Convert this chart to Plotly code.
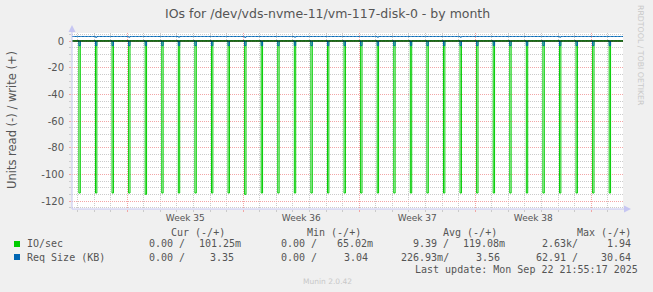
import pandas as pd
import plotly.graph_objects as go

# ---------------- data ----------------
range_start = "2025-08-20 16:00"
range_end = "2025-09-22 22:00"
first_day = "2025-08-21"
spike_hour = 2

# daily read burst (IO/sec, magnitude) - one 2h sample per day
read_io_spike = [114, 114, 114, 114, 115, 114, 114, 114, 114, 114, 115,
                 114, 114, 114, 114, 114, 114, 114, 114, 114, 114, 114,
                 114, 114, 114, 114, 114, 114, 114, 114, 114, 114, 114]
# read request size (KB, magnitude) during the burst
read_req_spike = [3.5, 3.5, 3.5, 3.5, 3.5, 3.5, 3.5, 3.5, 3.5, 3.5, 3.5,
                  3.5, 3.5, 3.5, 3.5, 3.5, 3.5, 3.5, 3.5, 3.5, 3.5, 3.5,
                  3.5, 3.5, 3.5, 3.5, 3.5, 3.5, 3.5, 3.5, 3.5, 3.5, 3.5]
# write request size (KB) per day
write_req_day = [3.4, 3.4, 3.4, 3.4, 3.4, 3.4, 3.4, 3.4, 3.4, 3.4, 3.4,
                 3.4, 3.4, 3.4, 3.4, 3.4, 3.4, 3.4, 3.4, 3.4, 3.4, 3.4,
                 3.4, 3.4, 3.4, 3.4, 3.4, 3.4, 3.4, 3.4, 3.4, 3.4, 3.4]
# write request size (KB) during the burst slot
write_req_spike = [3.4, 2.8, 3.4, 2.9, 3.4, 3.4, 2.9, 3.4, 3.4, 3.4, 2.8,
                   3.4, 3.4, 2.9, 3.4, 3.4, 3.4, 3.4, 2.9, 3.4, 3.4, 3.4,
                   3.4, 2.9, 3.4, 3.4, 3.4, 3.4, 3.4, 2.9, 3.4, 3.4, 3.4]
# write IO/sec per day
write_io_day = [0.12, 0.12, 0.12, 0.12, 0.12, 0.12, 0.12, 0.12, 0.12, 0.12, 0.12,
                0.12, 0.12, 0.12, 0.12, 0.12, 0.12, 0.12, 0.12, 0.12, 0.12, 0.12,
                0.12, 0.12, 0.12, 0.12, 0.12, 0.12, 0.12, 0.12, 0.12, 0.12, 0.12]

# week boundaries (Sundays) and the label shown for each week
week_starts = ["2025-08-17", "2025-08-24", "2025-08-31", "2025-09-07", "2025-09-14", "2025-09-21"]
week_labels = ["", "Week 35", "Week 36", "Week 37", "Week 38", ""]
y_tick_labels = ["0", "-20", "-40", "-60", "-80", "-100", "-120"]

title_text = "IOs for /dev/vds-nvme-11/vm-117-disk-0 - by month"
y_title = "Units read (-) / write (+)"
series_names = ["IO/sec", "Req Size (KB)"]
series_colors = ["#00CC00", "#0066B3"]
col_headers = ["Cur (-/+)", "Min (-/+)", "Avg (-/+)", "Max (-/+)"]
io_stats_read = ["0.00 /", "0.00 /", "9.39 /", "2.63k/"]
io_stats_write = ["101.25m", "65.02m", "119.08m", "1.94"]
req_stats_read = ["0.00 /", "0.00 /", "226.93m/", "62.91 /"]
req_stats_write = ["3.35", "3.04", "3.56", "30.64"]
last_update = "Last update: Mon Sep 22 21:55:17 2025"

# ---------------- build 2h series ----------------
days = pd.date_range(first_day, periods=len(read_io_spike), freq="D")
slots = pd.date_range(range_start, range_end, freq="2h")
day_index = {d: i for i, d in enumerate(days)}

rio, wio, rreq, wreq = [], [], [], []
for t in slots:
    d = t.normalize()
    i = day_index.get(d, 0)
    known = d in day_index
    spike = known and t.hour == spike_hour
    rio.append(-read_io_spike[i] if spike else 0)
    wio.append(write_io_day[i])
    wreq.append(write_req_spike[i] if spike else write_req_day[i])
    if spike:
        rreq.append(-read_req_spike[i])
    elif known and t.hour in (spike_hour - 2, spike_hour + 2):
        rreq.append(0)
    else:
        rreq.append(None)

# ---------------- figure ----------------
W, H = 653, 292
L, R, T, B = 72, 623, 33, 209
def px(x):
    return (x - L) / (R - L)
def py(y):
    return (B - y) / (B - T)

GREEN, BLUE = series_colors
TXT = "#555555"
AXISC = "#c6c6f2"
MINOR = "#cbcbcb"
MAJOR = "#f2a6a6"

fig = go.Figure()
line_kw = dict(mode="lines", line_shape="hv", hoverinfo="skip", showlegend=False)
fig.add_trace(go.Scatter(x=slots, y=rio, line=dict(color=GREEN, width=1), **line_kw))
fig.add_trace(go.Scatter(x=slots, y=wio, line=dict(color=GREEN, width=1), **line_kw))
fig.add_trace(go.Scatter(x=slots, y=rreq, line=dict(color=BLUE, width=1), connectgaps=False, **line_kw))
fig.add_trace(go.Scatter(x=slots, y=wreq, line=dict(color=BLUE, width=1), **line_kw))

# week tick labels: ISO week key of each Sunday boundary -> label of the week it starts
alias_x = {pd.Timestamp(s).strftime("%V"): lab for s, lab in zip(week_starts, week_labels)}
alias_y = {("\u2212" + lab[1:] if lab.startswith("-") else lab): lab for lab in y_tick_labels}

fig.update_layout(
    width=W, height=H,
    margin=dict(l=L, r=W - R, t=T, b=H - B, pad=0),
    paper_bgcolor="#F0F0F0", plot_bgcolor="#FFFFFF",
    font=dict(family="DejaVu Sans", size=9, color=TXT),
    xaxis=dict(
        type="date", range=[range_start, range_end],
        tickmode="linear", tick0=week_starts[1], dtick=7 * 86400000,
        tickformat="%V", ticklabelmode="period", labelalias=alias_x,
        showgrid=True, gridcolor=MAJOR, griddash="1px,1px", gridwidth=1,
        ticks="outside", ticklen=2, tickcolor=MAJOR,
        minor=dict(tick0=week_starts[1], dtick=86400000, showgrid=True,
                   gridcolor=MINOR, griddash="1px,1px", ticks="outside",
                   ticklen=2, tickcolor=MINOR),
        showline=False, zeroline=False,
        tickfont=dict(family="DejaVu Sans", size=9, color=TXT),
        ticklabelstandoff=-2,
        fixedrange=True,
    ),
    yaxis=dict(
        range=[-126, 6], tickmode="linear", tick0=0, dtick=20,
        labelalias=alias_y,
        showgrid=True, gridcolor=MAJOR, griddash="1px,1px", gridwidth=1,
        ticks="outside", ticklen=2, tickcolor=MAJOR,
        minor=dict(dtick=5, showgrid=True, gridcolor=MINOR, griddash="1px,1px",
                   ticks="outside", ticklen=2, tickcolor=MINOR),
        showline=False, zeroline=False,
        tickfont=dict(family="DejaVu Sans", size=10, color=TXT),
        ticklabelstandoff=3,
        fixedrange=True,
    ),
)

shapes = []
# zero rule
shapes.append(dict(type="line", xref="paper", yref="y", x0=0, x1=1, y0=0, y1=0,
                   line=dict(color="#000000", width=1), layer="above"))
# axes + arrows
shapes.append(dict(type="line", xref="paper", yref="paper", x0=0, x1=0, y0=0, y1=py(28),
                   line=dict(color=AXISC, width=1), layer="above"))
shapes.append(dict(type="line", xref="paper", yref="paper", x0=0, x1=px(628), y0=0, y1=0,
                   line=dict(color=AXISC, width=1), layer="above"))
shapes.append(dict(type="path", xref="paper", yref="paper",
                   path=f"M {px(68.5)} {py(32)} L {px(75.5)} {py(32)} L {px(72)} {py(25)} Z",
                   fillcolor=AXISC, line=dict(color=AXISC, width=0), layer="above"))
shapes.append(dict(type="path", xref="paper", yref="paper",
                   path=f"M {px(624)} {py(205.5)} L {px(624)} {py(212.5)} L {px(631)} {py(209)} Z",
                   fillcolor=AXISC, line=dict(color=AXISC, width=0), layer="above"))
# legend squares
for c, yc in zip(series_colors, [244, 257]):
    shapes.append(dict(type="rect", xref="paper", yref="paper",
                       x0=px(14), x1=px(20), y0=py(yc + 3), y1=py(yc - 3),
                       fillcolor=c, line=dict(width=0)))
fig.update_layout(shapes=shapes)

ann = []
def text(x, y, s, size=10, anchor="left", family="DejaVu Sans Mono", color=TXT, angle=0):
    ann.append(dict(xref="paper", yref="paper", x=px(x), y=py(y), text=s.replace(" ", "\u00a0"),
                    showarrow=False, xanchor=anchor, yanchor="middle", borderpad=0,
                    textangle=angle, font=dict(family=family, size=size, color=color)))

text(327, 13, title_text, size=12.5, anchor="center", family="DejaVu Sans")
text(12, 120, y_title, size=11.5, anchor="center", family="DejaVu Sans", angle=-90)
text(641, 55, "RRDTOOL / TOBI OETIKER", size=7.8, anchor="center", family="DejaVu Sans",
     color="#c8c8c8", angle=90)
text(327, 281, "Munin 2.0.42", size=7.5, anchor="center", family="DejaVu Sans", color="#c8c8c8")

head_right = [226, 362, 498, 632]
read_right = [186, 318, 450, 579]
write_right1 = [242, 374, 506, 632]
write_right2 = [235, 369, 501, 632]
for h, xr in zip(col_headers, head_right):
    text(xr, 233, h, anchor="right")
text(26, 244, series_names[0])
text(26, 257, series_names[1])
for s, xr in zip(io_stats_read, read_right):
    text(xr, 244, s, anchor="right")
for s, xr in zip(io_stats_write, write_right1):
    text(xr, 244, s, anchor="right")
for s, xr in zip(req_stats_read, read_right):
    text(xr, 257, s, anchor="right")
for s, xr in zip(req_stats_write, write_right2):
    text(xr, 257, s, anchor="right")
text(639, 269, last_update, anchor="right")
fig.update_layout(annotations=ann)

fig.write_html("out.html", config={"displayModeBar": False})
